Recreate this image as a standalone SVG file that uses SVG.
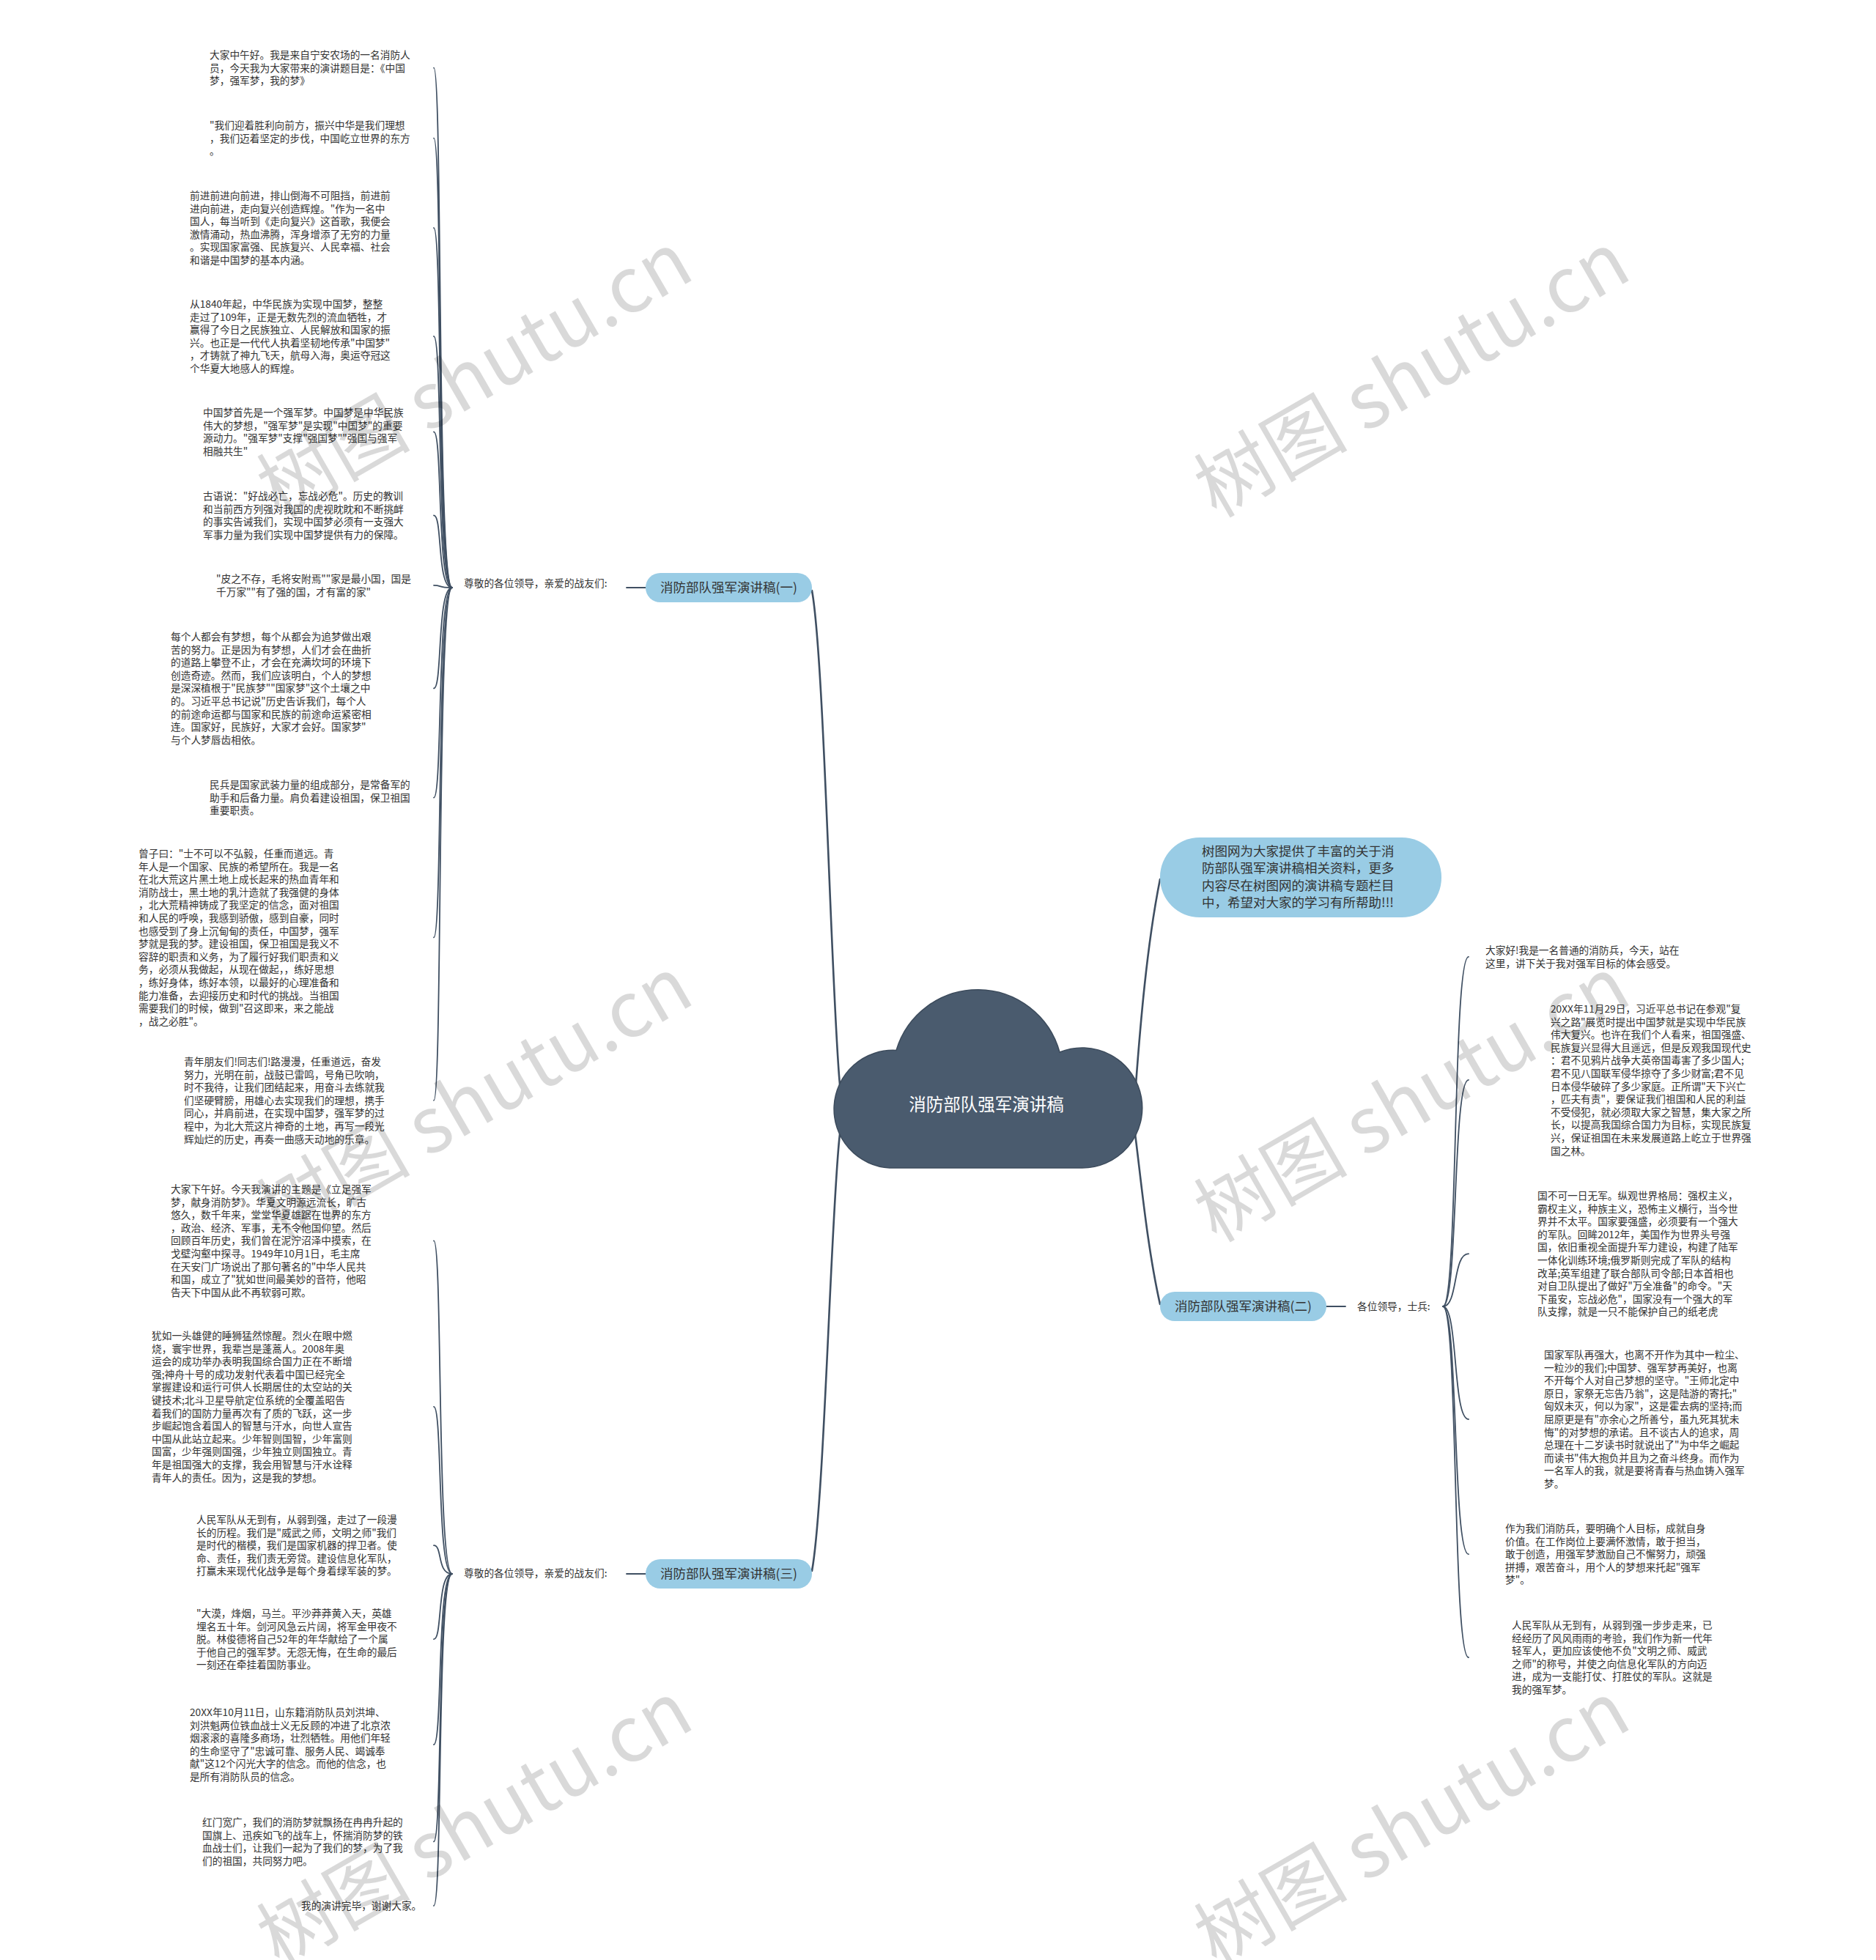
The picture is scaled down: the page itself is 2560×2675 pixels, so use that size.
<svg xmlns="http://www.w3.org/2000/svg" width="2560" height="2675" viewBox="0 0 2560 2675">
<style>
.t{font-family:"Noto Sans CJK SC","Noto Sans",sans-serif;font-size:13.7px;fill:#333333;}
.nt{font-family:"Noto Sans CJK SC","Noto Sans",sans-serif;font-size:17.5px;fill:#333333;text-anchor:middle;}
.pill{fill:#99cce5;}
.c1{fill:none;stroke:#3f4f62;stroke-width:1.8;stroke-linecap:round;}
.c2{fill:none;stroke:#3f4f62;stroke-width:2.6;stroke-linecap:round;}
.wm{font-family:"Noto Sans CJK SC","Noto Sans",sans-serif;font-size:105px;fill:#000000;fill-opacity:0.15;text-anchor:middle;}
</style>
<rect x="0" y="0" width="2560" height="2675" fill="#ffffff"/>

<g id="connectors">
  <!-- cloud to main branches -->
  <path class="c2" d="M1108 806 C1125 900 1134 1350 1146 1480"/>
  <path class="c2" d="M1108 2144 C1125 2050 1134 1650 1146 1548"/>
  <path class="c2" d="M1583 1200 C1565 1290 1556 1400 1550 1480"/>
  <path class="c2" d="M1583 1780 C1565 1700 1556 1600 1549 1548"/>
  <!-- branch to label -->
  <path class="c1" d="M881 802 L855 802"/>
  <path class="c1" d="M881 2148 L855 2148"/>
  <path class="c1" d="M1810 1783 L1836 1783"/>
  <!-- branch 1 children -->
  <path class="c1" d="M617 802 C596 802 604 92.6 592 92.6"/>
  <path class="c1" d="M617 802 C596 802 604 188.6 592 188.6"/>
  <path class="c1" d="M617 802 C596 802 604 311 592 311"/>
  <path class="c1" d="M617 802 C596 802 604 459 592 459"/>
  <path class="c1" d="M617 802 C596 802 604 589.4 592 589.4"/>
  <path class="c1" d="M617 802 C596 802 604 703.4 592 703.4"/>
  <path class="c1" d="M617 802 C596 802 604 798.8 592 798.8"/>
  <path class="c1" d="M617 802 C596 802 604 939.4 592 939.4"/>
  <path class="c1" d="M617 802 C596 802 604 1088.6 592 1088.6"/>
  <path class="c1" d="M617 802 C596 802 604 1279.4 592 1279.4"/>
  <path class="c1" d="M617 802 C596 802 604 1501.8 592 1501.8"/>
  <!-- branch 3 children -->
  <path class="c1" d="M617 2148 C596 2148 604 1693.4 592 1693.4"/>
  <path class="c1" d="M617 2148 C596 2148 604 1919.8 592 1919.8"/>
  <path class="c1" d="M617 2148 C596 2148 604 2109.2 592 2109.2"/>
  <path class="c1" d="M617 2148 C596 2148 604 2237.2 592 2237.2"/>
  <path class="c1" d="M617 2148 C596 2148 604 2381 592 2381"/>
  <path class="c1" d="M617 2148 C596 2148 604 2513.4 592 2513.4"/>
  <path class="c1" d="M617 2148 C596 2148 604 2601 592 2601"/>
  <!-- branch 2 children -->
  <path class="c1" d="M1969 1783 C1990 1783 1982 1305.8 2004 1305.8"/>
  <path class="c1" d="M1969 1783 C1990 1783 1982 1473.8 2004 1473.8"/>
  <path class="c1" d="M1969 1783 C1990 1783 1982 1711.2 2004 1711.2"/>
  <path class="c1" d="M1969 1783 C1990 1783 1982 1937 2004 1937"/>
  <path class="c1" d="M1969 1783 C1990 1783 1982 2121.2 2004 2121.2"/>
  <path class="c1" d="M1969 1783 C1990 1783 1982 2262 2004 2262"/>
</g>

<g id="topic-center">
  <path d="M1214 1594 A80 80 0 1 1 1223 1433.5 A116 116 0 0 1 1446 1436 A82 82 0 1 1 1475 1594 Z" fill="#4a5b6e" stroke="#3c4b5c" stroke-width="1.5"/>
  <text x="1346" y="1516" font-family="Noto Sans CJK SC, Noto Sans, sans-serif" font-size="23.5" fill="#ffffff" text-anchor="middle">消防部队强军演讲稿</text>
</g>

<g id="summary">
  <rect x="1583" y="1143" width="384" height="109" rx="54" class="pill"/>
  <text class="nt" style="text-anchor:start" x="1640" y="1168"><tspan x="1640" dy="0">树图网为大家提供了丰富的关于消</tspan><tspan x="1640" dy="23.3">防部队强军演讲稿相关资料，更多</tspan><tspan x="1640" dy="23.3">内容尽在树图网的演讲稿专题栏目</tspan><tspan x="1640" dy="23.3">中，希望对大家的学习有所帮助!!!</tspan></text>
</g>

<g id="branch-1">
  <rect x="881" y="782" width="227" height="40" rx="20" class="pill"/>
  <text class="nt" x="994.5" y="808">消防部队强军演讲稿(一)</text>
</g>
<g id="branch-2">
  <rect x="1583" y="1763" width="227" height="40" rx="20" class="pill"/>
  <text class="nt" x="1696.5" y="1789">消防部队强军演讲稿(二)</text>
</g>
<g id="branch-3">
  <rect x="881" y="2128" width="227" height="40" rx="20" class="pill"/>
  <text class="nt" x="994.5" y="2154">消防部队强军演讲稿(三)</text>
</g>

<g id="label-1"><text class="t" x="633" y="801">尊敬的各位领导，亲爱的战友们:</text></g>
<g id="label-2"><text class="t" x="1852" y="1788">各位领导，士兵:</text></g>
<g id="label-3"><text class="t" x="633" y="2152">尊敬的各位领导，亲爱的战友们:</text></g>

<g id="b1-c1"><text class="t" x="286" y="80"><tspan x="286" dy="0">大家中午好。我是来自宁安农场的一名消防人</tspan><tspan x="286" dy="17.6">员，今天我为大家带来的演讲题目是：《中国</tspan><tspan x="286" dy="17.6">梦，强军梦，我的梦》</tspan></text></g>
<g id="b1-c2"><text class="t" x="286" y="176"><tspan x="286" dy="0">"我们迎着胜利向前方，振兴中华是我们理想</tspan><tspan x="286" dy="17.6">，我们迈着坚定的步伐，中国屹立世界的东方</tspan><tspan x="286" dy="17.6">。</tspan></text></g>
<g id="b1-c3"><text class="t" x="259" y="272"><tspan x="259" dy="0">前进前进向前进，排山倒海不可阻挡，前进前</tspan><tspan x="259" dy="17.6">进向前进，走向复兴创造辉煌。"作为一名中</tspan><tspan x="259" dy="17.6">国人，每当听到《走向复兴》这首歌，我便会</tspan><tspan x="259" dy="17.6">激情涌动，热血沸腾，浑身增添了无穷的力量</tspan><tspan x="259" dy="17.6">。实现国家富强、民族复兴、人民幸福、社会</tspan><tspan x="259" dy="17.6">和谐是中国梦的基本内涵。</tspan></text></g>
<g id="b1-c4"><text class="t" x="259" y="420"><tspan x="259" dy="0">从1840年起，中华民族为实现中国梦，整整</tspan><tspan x="259" dy="17.6">走过了109年，正是无数先烈的流血牺牲，才</tspan><tspan x="259" dy="17.6">赢得了今日之民族独立、人民解放和国家的振</tspan><tspan x="259" dy="17.6">兴。也正是一代代人执着坚韧地传承"中国梦"</tspan><tspan x="259" dy="17.6">，才铸就了神九飞天，航母入海，奥运夺冠这</tspan><tspan x="259" dy="17.6">个华夏大地感人的辉煌。</tspan></text></g>
<g id="b1-c5"><text class="t" x="277" y="568"><tspan x="277" dy="0">中国梦首先是一个强军梦。中国梦是中华民族</tspan><tspan x="277" dy="17.6">伟大的梦想，"强军梦"是实现"中国梦"的重要</tspan><tspan x="277" dy="17.6">源动力。"强军梦"支撑"强国梦""强国与强军</tspan><tspan x="277" dy="17.6">相融共生"</tspan></text></g>
<g id="b1-c6"><text class="t" x="277" y="682"><tspan x="277" dy="0">古语说："好战必亡，忘战必危"。历史的教训</tspan><tspan x="277" dy="17.6">和当前西方列强对我国的虎视眈眈和不断挑衅</tspan><tspan x="277" dy="17.6">的事实告诫我们，实现中国梦必须有一支强大</tspan><tspan x="277" dy="17.6">军事力量为我们实现中国梦提供有力的保障。</tspan></text></g>
<g id="b1-c7"><text class="t" x="295" y="795"><tspan x="295" dy="0">"皮之不存，毛将安附焉""家是最小国，国是</tspan><tspan x="295" dy="17.6">千万家""有了强的国，才有富的家"</tspan></text></g>
<g id="b1-c8"><text class="t" x="233" y="874"><tspan x="233" dy="0">每个人都会有梦想，每个从都会为追梦做出艰</tspan><tspan x="233" dy="17.6">苦的努力。正是因为有梦想，人们才会在曲折</tspan><tspan x="233" dy="17.6">的道路上攀登不止，才会在充满坎坷的环境下</tspan><tspan x="233" dy="17.6">创造奇迹。然而，我们应该明白，个人的梦想</tspan><tspan x="233" dy="17.6">是深深植根于"民族梦""国家梦"这个土壤之中</tspan><tspan x="233" dy="17.6">的。习近平总书记说"历史告诉我们，每个人</tspan><tspan x="233" dy="17.6">的前途命运都与国家和民族的前途命运紧密相</tspan><tspan x="233" dy="17.6">连。国家好，民族好，大家才会好。国家梦"</tspan><tspan x="233" dy="17.6">与个人梦唇齿相依。</tspan></text></g>
<g id="b1-c9"><text class="t" x="286" y="1076"><tspan x="286" dy="0">民兵是国家武装力量的组成部分，是常备军的</tspan><tspan x="286" dy="17.6">助手和后备力量。肩负着建设祖国，保卫祖国</tspan><tspan x="286" dy="17.6">重要职责。</tspan></text></g>
<g id="b1-c10"><text class="t" x="189" y="1170"><tspan x="189" dy="0">曾子曰："士不可以不弘毅，任重而道远。青</tspan><tspan x="189" dy="17.6">年人是一个国家、民族的希望所在。我是一名</tspan><tspan x="189" dy="17.6">在北大荒这片黑土地上成长起来的热血青年和</tspan><tspan x="189" dy="17.6">消防战士，黑土地的乳汁造就了我强健的身体</tspan><tspan x="189" dy="17.6">，北大荒精神铸成了我坚定的信念，面对祖国</tspan><tspan x="189" dy="17.6">和人民的呼唤，我感到骄傲，感到自豪，同时</tspan><tspan x="189" dy="17.6">也感受到了身上沉甸甸的责任，中国梦，强军</tspan><tspan x="189" dy="17.6">梦就是我的梦。建设祖国，保卫祖国是我义不</tspan><tspan x="189" dy="17.6">容辞的职责和义务，为了履行好我们职责和义</tspan><tspan x="189" dy="17.6">务，必须从我做起，从现在做起，，练好思想</tspan><tspan x="189" dy="17.6">，练好身体，练好本领，以最好的心理准备和</tspan><tspan x="189" dy="17.6">能力准备，去迎接历史和时代的挑战。当祖国</tspan><tspan x="189" dy="17.6">需要我们的时候，做到"召这即来，来之能战</tspan><tspan x="189" dy="17.6">，战之必胜"。</tspan></text></g>
<g id="b1-c11"><text class="t" x="251" y="1454"><tspan x="251" dy="0">青年朋友们!同志们!路漫漫，任重道远，奋发</tspan><tspan x="251" dy="17.6">努力，光明在前，战鼓已雷鸣，号角已吹响，</tspan><tspan x="251" dy="17.6">时不我待，让我们团结起来，用奋斗去练就我</tspan><tspan x="251" dy="17.6">们坚硬臂膀，用雄心去实现我们的理想，携手</tspan><tspan x="251" dy="17.6">同心，并肩前进，在实现中国梦，强军梦的过</tspan><tspan x="251" dy="17.6">程中，为北大荒这片神奇的土地，再写一段光</tspan><tspan x="251" dy="17.6">辉灿烂的历史，再奏一曲感天动地的乐章。</tspan></text></g>

<g id="b3-c1"><text class="t" x="233" y="1628"><tspan x="233" dy="0">大家下午好。今天我演讲的主题是《立足强军</tspan><tspan x="233" dy="17.6">梦，献身消防梦》。华夏文明源远流长，旷古</tspan><tspan x="233" dy="17.6">悠久，数千年来，堂堂华夏雄踞在世界的东方</tspan><tspan x="233" dy="17.6">，政治、经济、军事，无不令他国仰望。然后</tspan><tspan x="233" dy="17.6">回顾百年历史，我们曾在泥泞沼泽中摸索，在</tspan><tspan x="233" dy="17.6">戈壁沟壑中探寻。1949年10月1日，毛主席</tspan><tspan x="233" dy="17.6">在天安门广场说出了那句著名的"中华人民共</tspan><tspan x="233" dy="17.6">和国，成立了"犹如世间最美妙的音符，他昭</tspan><tspan x="233" dy="17.6">告天下中国从此不再软弱可欺。</tspan></text></g>
<g id="b3-c2"><text class="t" x="207" y="1828"><tspan x="207" dy="0">犹如一头雄健的睡狮猛然惊醒。烈火在眼中燃</tspan><tspan x="207" dy="17.6">烧，寰宇世界，我辈岂是蓬蒿人。2008年奥</tspan><tspan x="207" dy="17.6">运会的成功举办表明我国综合国力正在不断增</tspan><tspan x="207" dy="17.6">强;神舟十号的成功发射代表着中国已经完全</tspan><tspan x="207" dy="17.6">掌握建设和运行可供人长期居住的太空站的关</tspan><tspan x="207" dy="17.6">键技术;北斗卫星导航定位系统的全覆盖昭告</tspan><tspan x="207" dy="17.6">着我们的国防力量再次有了质的飞跃，这一步</tspan><tspan x="207" dy="17.6">步崛起饱含着国人的智慧与汗水，向世人宣告</tspan><tspan x="207" dy="17.6">中国从此站立起来。少年智则国智，少年富则</tspan><tspan x="207" dy="17.6">国富，少年强则国强，少年独立则国独立。青</tspan><tspan x="207" dy="17.6">年是祖国强大的支撑，我会用智慧与汗水诠释</tspan><tspan x="207" dy="17.6">青年人的责任。因为，这是我的梦想。</tspan></text></g>
<g id="b3-c3"><text class="t" x="268" y="2079"><tspan x="268" dy="0">人民军队从无到有，从弱到强，走过了一段漫</tspan><tspan x="268" dy="17.6">长的历程。我们是"威武之师，文明之师"我们</tspan><tspan x="268" dy="17.6">是时代的楷模，我们是国家机器的捍卫者。使</tspan><tspan x="268" dy="17.6">命、责任，我们责无旁贷。建设信息化军队，</tspan><tspan x="268" dy="17.6">打赢未来现代化战争是每个身着绿军装的梦。</tspan></text></g>
<g id="b3-c4"><text class="t" x="268" y="2207"><tspan x="268" dy="0">"大漠，烽烟，马兰。平沙莽莽黄入天，英雄</tspan><tspan x="268" dy="17.6">埋名五十年。剑河风急云片阔，将军金甲夜不</tspan><tspan x="268" dy="17.6">脱。林俊德将自己52年的年华献给了一个属</tspan><tspan x="268" dy="17.6">于他自己的强军梦。无怨无悔，在生命的最后</tspan><tspan x="268" dy="17.6">一刻还在牵挂着国防事业。</tspan></text></g>
<g id="b3-c5"><text class="t" x="259" y="2342"><tspan x="259" dy="0">20XX年10月11日，山东籍消防队员刘洪坤、</tspan><tspan x="259" dy="17.6">刘洪魁两位铁血战士义无反顾的冲进了北京浓</tspan><tspan x="259" dy="17.6">烟滚滚的喜隆多商场，壮烈牺牲。用他们年轻</tspan><tspan x="259" dy="17.6">的生命坚守了"忠诚可靠、服务人民、竭诚奉</tspan><tspan x="259" dy="17.6">献"这12个闪光大字的信念。而他的信念，也</tspan><tspan x="259" dy="17.6">是所有消防队员的信念。</tspan></text></g>
<g id="b3-c6"><text class="t" x="276" y="2492"><tspan x="276" dy="0">红门宽广，我们的消防梦就飘扬在冉冉升起的</tspan><tspan x="276" dy="17.6">国旗上、迅疾如飞的战车上，怀揣消防梦的铁</tspan><tspan x="276" dy="17.6">血战士们，让我们一起为了我们的梦，为了我</tspan><tspan x="276" dy="17.6">们的祖国，共同努力吧。</tspan></text></g>
<g id="b3-c7"><text class="t" x="411" y="2606">我的演讲完毕，谢谢大家。</text></g>

<g id="b2-c1"><text class="t" x="2027" y="1302"><tspan x="2027" dy="0">大家好!我是一名普通的消防兵，今天，站在</tspan><tspan x="2027" dy="17.6">这里，讲下关于我对强军目标的体会感受。</tspan></text></g>
<g id="b2-c2"><text class="t" x="2116" y="1382"><tspan x="2116" dy="0">20XX年11月29日，习近平总书记在参观"复</tspan><tspan x="2116" dy="17.6">兴之路"展览时提出中国梦就是实现中华民族</tspan><tspan x="2116" dy="17.6">伟大复兴。也许在我们个人看来，祖国强盛、</tspan><tspan x="2116" dy="17.6">民族复兴显得大且遥远，但是反观我国现代史</tspan><tspan x="2116" dy="17.6">：君不见鸦片战争大英帝国毒害了多少国人;</tspan><tspan x="2116" dy="17.6">君不见八国联军侵华掠夺了多少财富;君不见</tspan><tspan x="2116" dy="17.6">日本侵华破碎了多少家庭。正所谓"天下兴亡</tspan><tspan x="2116" dy="17.6">，匹夫有责"，要保证我们祖国和人民的利益</tspan><tspan x="2116" dy="17.6">不受侵犯，就必须取大家之智慧，集大家之所</tspan><tspan x="2116" dy="17.6">长，以提高我国综合国力为目标，实现民族复</tspan><tspan x="2116" dy="17.6">兴，保证祖国在未来发展道路上屹立于世界强</tspan><tspan x="2116" dy="17.6">国之林。</tspan></text></g>
<g id="b2-c3"><text class="t" x="2098" y="1637"><tspan x="2098" dy="0">国不可一日无军。纵观世界格局：强权主义，</tspan><tspan x="2098" dy="17.6">霸权主义，种族主义，恐怖主义横行，当今世</tspan><tspan x="2098" dy="17.6">界并不太平。国家要强盛，必须要有一个强大</tspan><tspan x="2098" dy="17.6">的军队。回眸2012年，美国作为世界头号强</tspan><tspan x="2098" dy="17.6">国，依旧重视全面提升军力建设，构建了陆军</tspan><tspan x="2098" dy="17.6">一体化训练环境;俄罗斯则完成了军队的结构</tspan><tspan x="2098" dy="17.6">改革;英军组建了联合部队司令部;日本首相也</tspan><tspan x="2098" dy="17.6">对自卫队提出了做好"万全准备"的命令。"天</tspan><tspan x="2098" dy="17.6">下虽安，忘战必危"，国家没有一个强大的军</tspan><tspan x="2098" dy="17.6">队支撑，就是一只不能保护自己的纸老虎</tspan></text></g>
<g id="b2-c4"><text class="t" x="2107" y="1854"><tspan x="2107" dy="0">国家军队再强大，也离不开作为其中一粒尘、</tspan><tspan x="2107" dy="17.6">一粒沙的我们;中国梦、强军梦再美好，也离</tspan><tspan x="2107" dy="17.6">不开每个人对自己梦想的坚守。"王师北定中</tspan><tspan x="2107" dy="17.6">原日，家祭无忘告乃翁"，这是陆游的寄托;"</tspan><tspan x="2107" dy="17.6">匈奴未灭，何以为家"，这是霍去病的坚持;而</tspan><tspan x="2107" dy="17.6">屈原更是有"亦余心之所善兮，虽九死其犹未</tspan><tspan x="2107" dy="17.6">悔"的对梦想的承诺。且不谈古人的追求，周</tspan><tspan x="2107" dy="17.6">总理在十二岁读书时就说出了"为中华之崛起</tspan><tspan x="2107" dy="17.6">而读书"伟大抱负并且为之奋斗终身。而作为</tspan><tspan x="2107" dy="17.6">一名军人的我，就是要将青春与热血铸入强军</tspan><tspan x="2107" dy="17.6">梦。</tspan></text></g>
<g id="b2-c5"><text class="t" x="2054" y="2091"><tspan x="2054" dy="0">作为我们消防兵，要明确个人目标，成就自身</tspan><tspan x="2054" dy="17.6">价值。在工作岗位上要满怀激情，敢于担当，</tspan><tspan x="2054" dy="17.6">敢于创造，用强军梦激励自己不懈努力，顽强</tspan><tspan x="2054" dy="17.6">拼搏，艰苦奋斗，用个人的梦想来托起"强军</tspan><tspan x="2054" dy="17.6">梦"。</tspan></text></g>
<g id="b2-c6"><text class="t" x="2063" y="2223"><tspan x="2063" dy="0">人民军队从无到有，从弱到强一步步走来，已</tspan><tspan x="2063" dy="17.6">经经历了风风雨雨的考验，我们作为新一代年</tspan><tspan x="2063" dy="17.6">轻军人，更加应该使他不负"文明之师、威武</tspan><tspan x="2063" dy="17.6">之师"的称号，并使之向信息化军队的方向迈</tspan><tspan x="2063" dy="17.6">进，成为一支能打仗、打胜仗的军队。这就是</tspan><tspan x="2063" dy="17.6">我的强军梦。</tspan></text></g>

<g id="watermarks">
  <text class="wm" transform="translate(648 512) rotate(-30)" x="0" y="36">树图 shutu.cn</text>
  <text class="wm" transform="translate(1927 512) rotate(-30)" x="0" y="36">树图 shutu.cn</text>
  <text class="wm" transform="translate(648 1501) rotate(-30)" x="0" y="36">树图 shutu.cn</text>
  <text class="wm" transform="translate(1927 1501) rotate(-30)" x="0" y="36">树图 shutu.cn</text>
  <text class="wm" transform="translate(648 2490) rotate(-30)" x="0" y="36">树图 shutu.cn</text>
  <text class="wm" transform="translate(1927 2490) rotate(-30)" x="0" y="36">树图 shutu.cn</text>
</g>
</svg>
